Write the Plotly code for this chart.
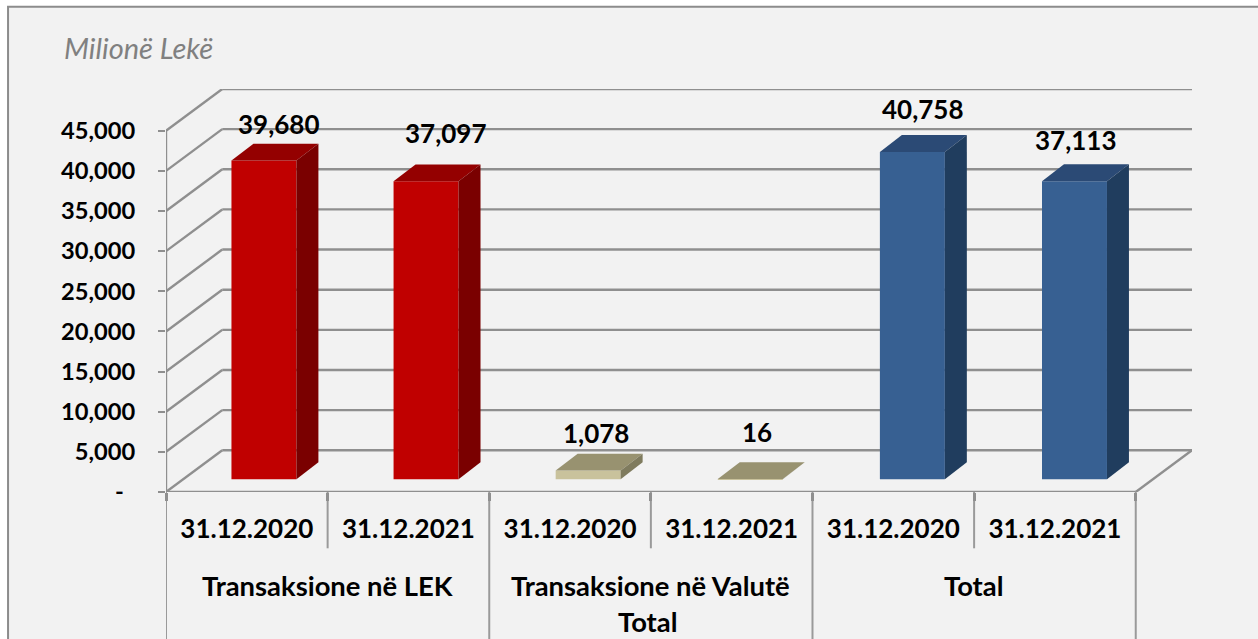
import plotly.graph_objects as go

dates = ["31.12.2020", "31.12.2021"] * 3
values = [39680, 37097, 1078, 16, 40758, 37113]
value_labels = ["39,680", "37,097", "1,078", "16", "40,758", "37,113"]
group_lines = [("Transaksione në LEK", 1), ("Transaksione në Valutë", 3), ("Total", 5)]
second_line = ("Total", 3)
y_ticks = [0, 5000, 10000, 15000, 20000, 25000, 30000, 35000, 40000, 45000]
y_labels = ["-\u00a0\u00a0", "5,000", "10,000", "15,000", "20,000", "25,000", "30,000", "35,000", "40,000", "45,000"]
unit_label = "Milionë Lekë"

# styles
FRONT = ["#c00000", "#c00000", "#c9c29c", "#c9c29c", "#376092", "#376092"]
TOP = ["#940000", "#940000", "#989270", "#989270", "#2b4a75", "#2b4a75"]
SIDE = ["#7a0000", "#7a0000", "#7f7b5e", "#7f7b5e", "#203d5e", "#203d5e"]
GRID = "#8f8f8f"
FONT = "Lato"
label_dx = [14.5, 19.5, 7.5, 7, 10, 1]
label_dy = [20, 31, 21, 30, 26, 24]

W, H = 1258, 639
L, R, T, B = 166, 1192.3, 88.7, 491.7
WALL_X = (R - L) / 161.67 - 6
WALL_Y = 5200
BAR_W = 0.402
BAR_C = 0.606
BAR_STEP = 1.003
BAR_DX = 0.136
BAR_DY = 2100
LIFT = 1600


def py(px):
    """paper coordinate of a page pixel row"""
    return (B - px) / (B - T)


def line(x0, y0, x1, y1, width=2.4):
    return dict(type="line", xref="x", yref="y", x0=x0, y0=y0, x1=x1, y1=y1,
                line=dict(color=GRID, width=width), layer="below")


shapes = [dict(type="rect", xref="paper", yref="paper",
               x0=(8 - L) / (R - L), x1=(W + 10 - L) / (R - L),
               y0=py(H + 10), y1=py(6.5),
               fillcolor="#f2f2f2", line=dict(color="#8c8c8c", width=2), layer="below")]
for t in y_ticks:
    shapes.append(line(0, t, WALL_X, t + WALL_Y))
    shapes.append(line(WALL_X, t + WALL_Y, 6 + WALL_X, t + WALL_Y))
shapes.append(line(0, 0, 6, 0))
shapes.append(line(6, 0, 6 + WALL_X, WALL_Y))
shapes.append(line(0, 0, 0, 45000))
# separators under the axis
for k in range(7):
    shapes.append(dict(type="line", xref="x", yref="paper", x0=k, x1=k, y0=0,
                       y1=py(H + 10) if k % 2 == 0 else py(548),
                       line=dict(color="#9a9a9a", width=2), layer="below"))

fig = go.Figure()

centers = [i * BAR_STEP + BAR_C for i in range(len(values))]
fig.add_trace(go.Bar(x=centers, y=values, base=[LIFT] * len(values), width=BAR_W,
                     marker=dict(color=FRONT, line=dict(width=0)), hoverinfo="skip"))

for c, v, top, side in zip(centers, values, TOP, SIDE):
    x0, x1 = c - BAR_W / 2, c + BAR_W / 2
    y0, y1 = LIFT, LIFT + v
    fig.add_trace(go.Scatter(x=[x0, x1, x1 + BAR_DX, x0 + BAR_DX, x0],
                             y=[y1, y1, y1 + BAR_DY, y1 + BAR_DY, y1],
                             mode="none", fill="toself", fillcolor=top, hoverinfo="skip"))
    fig.add_trace(go.Scatter(x=[x1, x1 + BAR_DX, x1 + BAR_DX, x1, x1],
                             y=[y0, y0 + BAR_DY, y1 + BAR_DY, y1, y0],
                             mode="none", fill="toself", fillcolor=side, hoverinfo="skip"))

annotations = []
data_font = dict(family=FONT, size=26, color="#000000", weight=700)
group_font = dict(family=FONT, size=27.4, color="#000000", weight=700)
date_font = dict(family=FONT, size=26, color="#000000", weight=700)
tick_font = dict(family=FONT, size=23.7, color="#000000", weight=700)
for c, v, txt, dx, dy in zip(centers, values, value_labels, label_dx, label_dy):
    annotations.append(dict(x=c, y=LIFT + v + BAR_DY, xref="x", yref="y", text=txt, showarrow=False,
                            xshift=dx, yshift=dy, yanchor="middle", xanchor="center", font=data_font))
for txt, x in group_lines:
    annotations.append(dict(x=x, y=py(585), xref="x", yref="paper", text=txt, showarrow=False,
                            yanchor="middle", xanchor="center", font=group_font))
annotations.append(dict(x=second_line[1], y=py(621), xref="x", yref="paper", text=second_line[0],
                        showarrow=False, xshift=-3, yanchor="middle", xanchor="center", font=group_font))

fig.update_layout(
    width=W, height=H, showlegend=False,
    margin=dict(l=L, r=W - R, t=T, b=H - B, pad=0),
    paper_bgcolor="#ffffff", plot_bgcolor="rgba(0,0,0,0)",
    shapes=shapes, annotations=annotations,
    title=dict(text=unit_label, x=64 / W, xanchor="left", xref="container", y=1 - 49 / H, yanchor="middle",
               font=dict(family=FONT, size=29, style="italic", color="#808080")),
    xaxis=dict(range=[0, 6 + WALL_X], showgrid=False, zeroline=False, showline=False,
               tickmode="array", tickvals=[i + 0.5 for i in range(6)], ticktext=dates,
               ticks="", ticklabelstandoff=19, tickfont=date_font,
               minor=dict(ticks="outside", tick0=0, dtick=1, ticklen=8, tickwidth=3, tickcolor=GRID)),
    yaxis=dict(range=[0, 45000 + WALL_Y], showgrid=False, zeroline=False, showline=False,
               tickmode="array", tickvals=y_ticks, ticktext=y_labels,
               ticks="outside", ticklen=7, tickwidth=2, tickcolor=GRID, ticklabelstandoff=18, tickfont=tick_font),
)

fig.write_html("out.html", config=dict(displayModeBar=False),
               post_script="document.body.style.margin='0';document.body.style.overflow='hidden';")
